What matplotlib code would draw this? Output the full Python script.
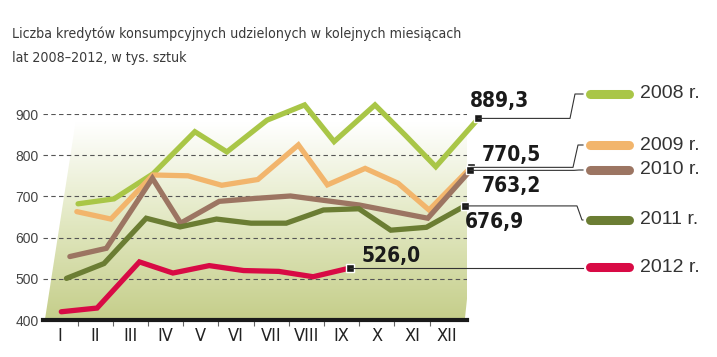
import numpy as np
import matplotlib

matplotlib.use("Agg")
import matplotlib.pyplot as plt  # noqa: E402
from matplotlib.lines import Line2D  # noqa: E402
from matplotlib.patches import Polygon  # noqa: E402
from matplotlib.transforms import Affine2D  # noqa: E402
from matplotlib.colors import LinearSegmentedColormap  # noqa: E402

W, H = 717, 357

months = ["I", "II", "III", "IV", "V", "VI", "VII", "VIII", "IX", "X", "XI", "XII"]
years = ["2008", "2009", "2010", "2011", "2012"]
v2008 = [682, 694, 755, 857, 808, 885, 922, 833, 922, 848, 772, 889.3]
v2009 = [663, 645, 752, 750, 727, 741, 825, 728, 768, 732, 667, 770.5]
v2010 = [554, 574, 744, 635, 688, 695, 701, 690, 679, 663, 647, 763.2]
v2011 = [501, 537, 647, 626, 645, 635, 635, 667, 670, 618, 625, 676.9]
v2012 = [420, 429, 541, 514, 532, 520, 518, 505, 526.0]
yticks = [400, 500, 600, 700, 800, 900]

colors = ["#a9c647", "#f2b56c", "#9c7562", "#6b7d33", "#d80a45"]
series = [v2008, v2009, v2010, v2011, v2012]

COND = dict(fontfamily=["DejaVu Sans"], fontstretch="condensed")
plt.rcParams["font.family"] = ["Liberation Sans", "DejaVu Sans"]


def fp(x, y):
    """pixel (top-left origin) -> figure fraction"""
    return x / W, 1 - y / H


fig = plt.figure(figsize=(W / 100, H / 100), dpi=100)
ax = fig.add_axes([43 / W, (H - 320) / H, 424 / W, 206 / H])

# pseudo-perspective: lines lean to the right as values grow
c = 0.064 / 35.2
shear = Affine2D(np.array([[1, c, -400 * c], [0, 1, 0], [0, 0, 1]])) + ax.transData

# gradient background panel
cmap = LinearSegmentedColormap.from_list("bg", ["#c5ce8a", "#e2e8c2", "#ffffff"])
grad = np.linspace(0, 1, 256).reshape(-1, 1)
img = ax.imshow(grad, extent=(-1, 13, 400, 880), origin="lower", aspect="auto",
                cmap=cmap, zorder=0, interpolation="bicubic")
panel = Polygon([(-0.43, 400), (11.5, 400), (11.22, 880), (-0.43, 880)],
                closed=True, transform=shear, facecolor="none", edgecolor="none")
ax.add_patch(panel)
img.set_clip_path(panel)
ax.set_xlim(-0.483, 11.563)
ax.set_ylim(400, 900)

for vals, col in zip(series, colors):
    ax.plot(range(len(vals)), vals, color=col, lw=3.8, solid_joinstyle="miter",
            solid_capstyle="round", transform=shear, clip_on=False, zorder=3)
    ax.plot([len(vals) - 1], [vals[-1]], marker="s", ms=5.5, mfc="#1a1a1a", mec="white",
            mew=1.0, transform=shear, clip_on=False, zorder=5)

# axes styling
ax.set_yticks(yticks)
ax.yaxis.grid(True, linestyle=(0, (4, 3)), color="#555555", lw=0.8)
ax.set_axisbelow(True)
for s in ["left", "right", "top"]:
    ax.spines[s].set_visible(False)
ax.spines["bottom"].set_linewidth(3)
ax.spines["bottom"].set_color("#1a1a1a")
ax.spines["bottom"].set_zorder(6)
ax.tick_params(axis="y", length=0, pad=3, labelsize=10, labelcolor="#444444")
ax.set_xticks(range(12))
ax.set_xticklabels(months, fontsize=13, color="#222222", **COND)
ax.tick_params(axis="x", which="major", length=0, pad=5)
ax.set_xticks(np.arange(0.5, 11, 1), minor=True)
ax.tick_params(axis="x", which="minor", length=4, width=0.8, color="#666666")

# title
fig.text(*fp(12, 38), "Liczba kredytów konsumpcyjnych udzielonych w kolejnych miesiącach",
         fontsize=10.2, color="#3a3a3a", va="baseline", **COND)
fig.text(*fp(12, 62), "lat 2008\u20132012, w tys. sztuk",
         fontsize=10.2, color="#3a3a3a", va="baseline", **COND)

# value labels, connectors and legend
label_xy = [(470, 101), (482, 155), (482, 186), (465, 222), (362, 256)]
bend_x = [570, 573, 574, 577, None]
legend_y = [94, 145, 170, 220, 267]
for vals, col, yr, lxy, bx, ly in zip(series, colors, years, label_xy, bend_x, legend_y):
    dx, dy = shear.transform((len(vals) - 1, vals[-1]))
    mx, my = dx, H - dy
    if bx is None:
        px = [mx, 583]
        py = [my, my]
    else:
        px = [mx, bx, bx + 5, 583]
        py = [my, my, ly, ly]
    pts = [fp(x, y) for x, y in zip(px, py)]
    fig.add_artist(Line2D([p[0] for p in pts], [p[1] for p in pts], transform=fig.transFigure,
                          color="#333333", lw=0.8, zorder=4))
    fig.text(*fp(*lxy), f"{vals[-1]:.1f}".replace(".", ","), fontweight="bold",
             fontsize=15, color="#1a1a1a", va="center", ha="left", **COND)
    x0, y0 = fp(589.5, ly)
    x1, _ = fp(628.5, ly)
    fig.add_artist(Line2D([x0, x1], [y0, y0], transform=fig.transFigure, color=col,
                          lw=6.5, solid_capstyle="round"))
    fig.text(*fp(640, ly), f"{yr} r.", fontsize=14, color="#333333", va="center", ha="left")

fig.savefig("out.png", dpi=100)
